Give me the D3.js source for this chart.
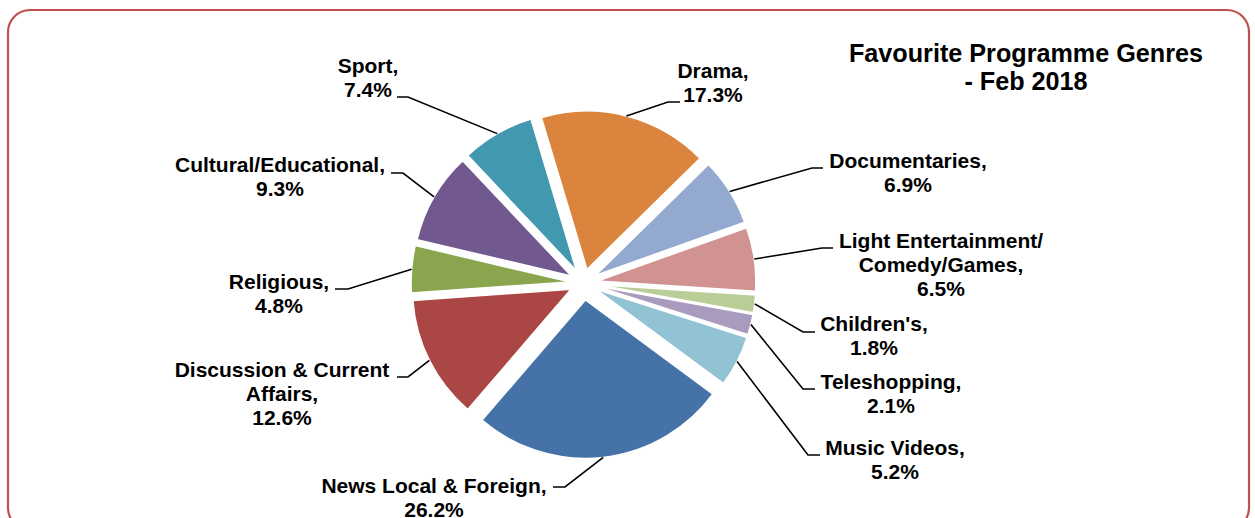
<!DOCTYPE html>
<html>
<head>
<meta charset="utf-8">
<script src="https://cdn.jsdelivr.net/npm/d3@7/dist/d3.min.js"></script>
<style>
  html, body { margin: 0; padding: 0; background: #ffffff; }
  svg { display: block; }
  text { font-family: "Liberation Sans", Arial, sans-serif; font-weight: bold; fill: #000; }
</style>
</head>
<body>
<svg id="chart" width="1255" height="518"></svg>
<script>
// Survey shares, listed clockwise from the Drama slice
const genres = [
  "Drama", "Documentaries", "Light Entertainment/Comedy/Games", "Children's",
  "Teleshopping", "Music Videos", "News Local & Foreign",
  "Discussion & Current Affairs", "Religious", "Cultural/Educational", "Sport"
];
const shares = [17.3, 6.9, 6.5, 1.8, 2.1, 5.2, 26.2, 12.6, 4.8, 9.3, 7.4];
const sliceColors = [
  "#DB843D", "#93A9CF", "#D19392", "#B9CD96", "#A99BBD", "#91C3D5",
  "#4572A7", "#AA4643", "#89A54E", "#71588F", "#4198AF"
];
const titleLines = ["Favourite Programme Genres", "- Feb 2018"];

// Label placement: text centre x, first baseline y, leader dash (x1 -> x2 at y; x2 joins the slice),
// and where a long name wraps onto the next line.
const labelLayout = [
  { x: 713, y: 78,  dash: [680, 668, 102] },
  { x: 908, y: 168, dash: [823, 812, 168] },
  { x: 941, y: 248, dash: [833, 822, 248], breakAfter: "Entertainment/" },
  { x: 874, y: 331, dash: [815, 803, 332] },
  { x: 891, y: 389, dash: [815, 803, 389] },
  { x: 895, y: 455, dash: [820, 808, 455] },
  { x: 434, y: 493, dash: [553, 565, 487] },
  { x: 282, y: 377, dash: [397, 408, 377], breakAfter: "Current" },
  { x: 279, y: 289, dash: [335, 348, 289] },
  { x: 280, y: 172, dash: [391, 403, 173] },
  { x: 368, y: 73,  dash: [397, 408, 97] }
];

const W = 1255, H = 518;
const cx = 583.5, cy = 283, radius = 158.5;
const explode = [14, 14, 14, 14, 14, 14, 17, 14, 14, 14, 14];
const firstSliceDeg = -16.7;
const lineHeight = 24;

const svg = d3.select("#chart");

// Frame
svg.append("rect")
  .attr("x", 8).attr("y", 10)
  .attr("width", 1241).attr("height", 520)
  .attr("rx", 22).attr("ry", 22)
  .attr("fill", "#fff")
  .attr("stroke", "#C0504D")
  .attr("stroke-width", 2.2);

// Title
const title = svg.append("text")
  .attr("text-anchor", "middle")
  .style("font-size", "25.2px");
titleLines.forEach((t, i) => {
  title.append("tspan").attr("x", 1026).attr("y", 62 + i * 28).text(t);
});

const start = firstSliceDeg * Math.PI / 180;
const pie = d3.pie().sort(null).value(d => d).startAngle(start).endAngle(start + 2 * Math.PI);
const arcs = pie(shares);
const arc = d3.arc().innerRadius(0).outerRadius(radius);

const g = svg.append("g").attr("transform", `translate(${cx},${cy})`);

const midAngle = d => (d.startAngle + d.endAngle) / 2;
const offsetOf = (d, i) => [Math.sin(midAngle(d)) * explode[i], -Math.cos(midAngle(d)) * explode[i]];

g.selectAll("path.slice")
  .data(arcs)
  .join("path")
  .attr("class", "slice")
  .attr("d", arc)
  .attr("transform", (d, i) => { const o = offsetOf(d, i); return `translate(${o[0]},${o[1]})`; })
  .attr("fill", (d, i) => sliceColors[i])
  .attr("stroke", "#fff")
  .attr("stroke-width", 1.5)
  .attr("stroke-linejoin", "round");

// Leader lines: from the outer edge of each slice at its mid-angle to the label dash
const fmt = d3.format(".1f");
arcs.forEach((d, i) => {
  const o = offsetOf(d, i);
  const a = midAngle(d);
  const px = cx + o[0] + Math.sin(a) * radius;
  const py = cy + o[1] - Math.cos(a) * radius;
  const L = labelLayout[i];
  svg.append("polyline")
    .attr("points", `${px},${py} ${L.dash[1]},${L.dash[2]} ${L.dash[0]},${L.dash[2]}`)
    .attr("fill", "none")
    .attr("stroke", "#000")
    .attr("stroke-width", 1.6);

  // label text lines
  const name = genres[i];
  let lines;
  if (L.breakAfter) {
    const k = name.indexOf(L.breakAfter) + L.breakAfter.length;
    lines = [name.slice(0, k).trim(), name.slice(k).trim() + ","];
  } else {
    lines = [name + ","];
  }
  lines.push(fmt(shares[i]) + "%");
  const t = svg.append("text")
    .attr("text-anchor", "middle")
    .style("font-size", "21px");
  lines.forEach((s, j) => {
    t.append("tspan").attr("x", L.x).attr("y", L.y + j * lineHeight).text(s);
  });
});
</script>
</body>
</html>
